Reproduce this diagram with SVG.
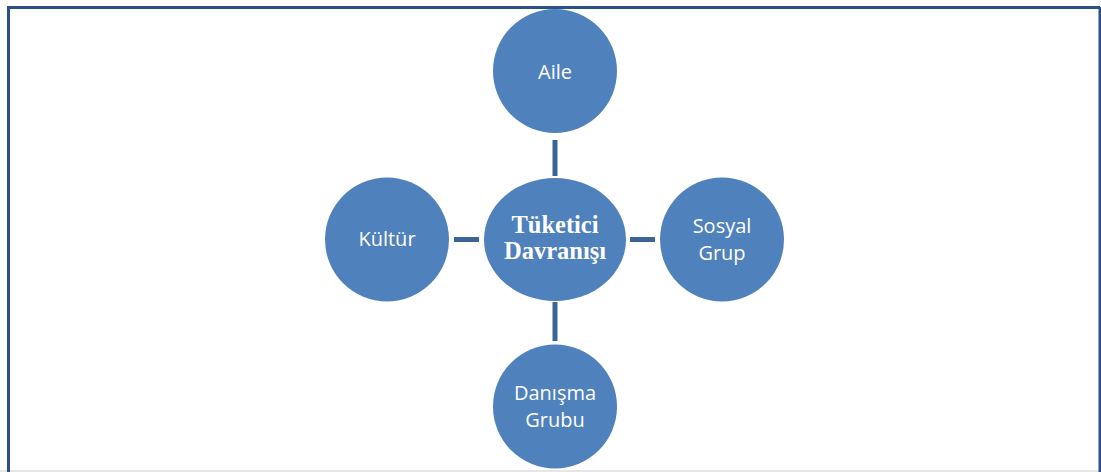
<svg xmlns="http://www.w3.org/2000/svg" width="1101" height="472" viewBox="0 0 1101 472">
  <style>
    .node { fill: #4f81bd; }
    .lbl { fill: #ffffff; font-family: "Open Sans", "Noto Sans", sans-serif; font-size: 20px; text-anchor: middle; }
    .core { fill: #ffffff; font-family: "Liberation Serif", serif; font-weight: bold; font-size: 24.5px; text-anchor: middle; }
    .link { stroke: #3b6596; stroke-width: 5; fill: none; }
  </style>
  <rect width="1101" height="472" fill="#ffffff"/>
  <!-- frame -->
  <line x1="0" y1="471" x2="1101" y2="471" stroke="#e6e6e6" stroke-width="2"/>
  <path d="M8.5,472 V7.5 H1100" fill="none" stroke="#2a5186" stroke-width="3"/>
  <line x1="1100" y1="7" x2="1100" y2="472" stroke="#2a5186" stroke-width="3"/>

  <g id="connectors">
    <line class="link" x1="555" y1="140" x2="555" y2="176"/>
    <line class="link" x1="555" y1="302" x2="555" y2="341"/>
    <line class="link" x1="454" y1="239.5" x2="479" y2="239.5"/>
    <line class="link" x1="630" y1="239.5" x2="655" y2="239.5"/>
  </g>

  <g id="tuketici-davranisi">
    <ellipse class="node" cx="555" cy="239.5" rx="71" ry="61.5"/>
    <text class="core" x="555" y="233">Tüketici</text>
    <text class="core" x="555" y="259">Davranışı</text>
  </g>
  <g id="aile">
    <circle class="node" cx="555" cy="71" r="62"/>
    <text class="lbl" x="555" y="79">Aile</text>
  </g>
  <g id="kultur">
    <circle class="node" cx="387" cy="239.5" r="62"/>
    <text class="lbl" x="387" y="246">Kültür</text>
  </g>
  <g id="sosyal-grup">
    <circle class="node" cx="722" cy="239.5" r="62"/>
    <text class="lbl" x="722" y="233">Sosyal</text>
    <text class="lbl" x="722" y="260">Grup</text>
  </g>
  <g id="danisma-grubu">
    <circle class="node" cx="555" cy="406.5" r="62"/>
    <text class="lbl" x="555" y="400">Danışma</text>
    <text class="lbl" x="555" y="427">Grubu</text>
  </g>
</svg>
